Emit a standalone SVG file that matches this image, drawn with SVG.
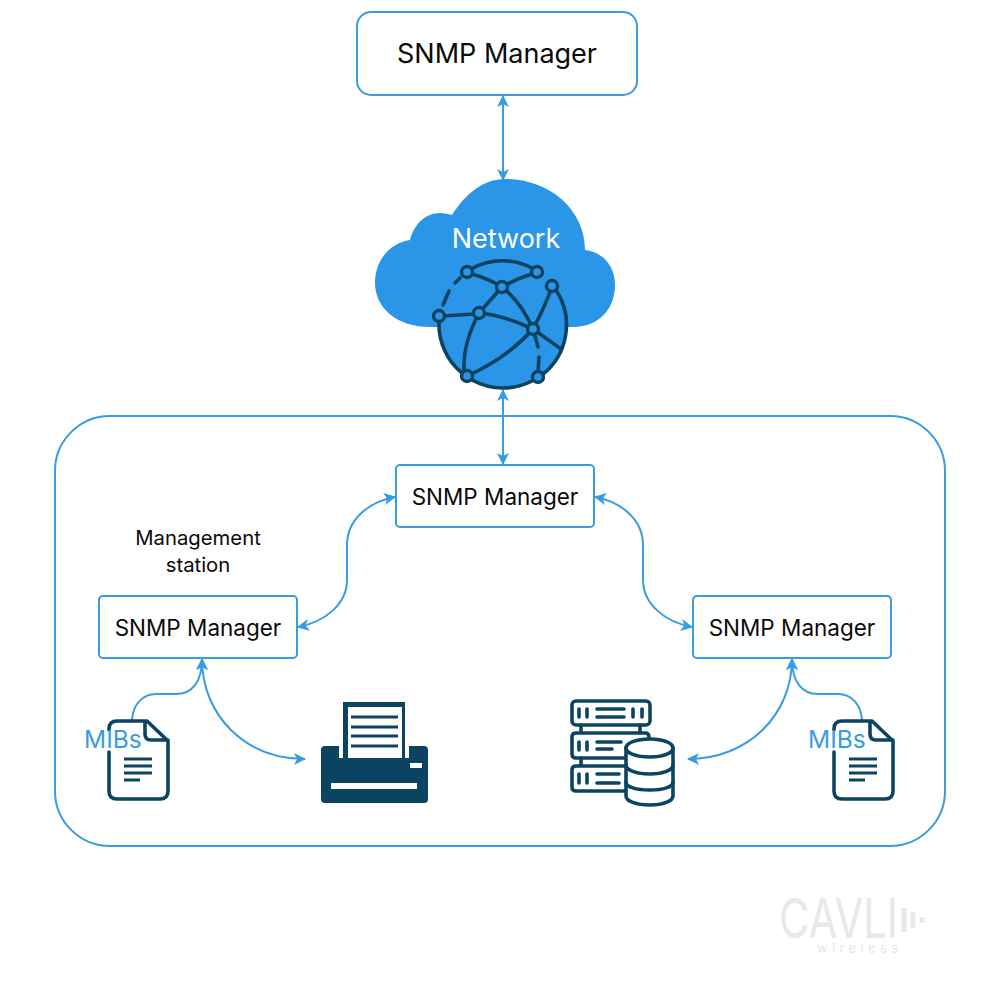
<svg xmlns="http://www.w3.org/2000/svg" width="1000" height="1000" viewBox="0 0 1000 1000">
<style>
text{font-family:Inter,"Liberation Sans",sans-serif;fill:#0a0a0a}
.box{fill:#fff;stroke:#3a9ce0;stroke-width:2}
.c{fill:none;stroke:#3a9ce0;stroke-width:2}
.d{fill:none;stroke:#0b4461;stroke-width:3.600;stroke-linecap:round;stroke-linejoin:round}
.g{fill:none;stroke:#0b4461;stroke-width:3.600;stroke-linecap:round}
.n{fill:#2b95e8;stroke:#0b4461;stroke-width:3.400}
.t{font-size:22.500px;text-anchor:middle}
.s{font-size:20.300px;text-anchor:middle}
.m{font-size:24.500px;fill:#3a9ce0}
.f{fill:#0b4461}
.l{stroke:#0b4461;stroke-width:2.800;fill:none}
</style>
<defs>
<marker id="a" viewBox="0 0 12 12" refX="11" refY="6" markerWidth="12" markerHeight="12" orient="auto-start-reverse" markerUnits="userSpaceOnUse"><path d="M0 0L12 6L0 12L3 6z" fill="#3a9ce0"/></marker>
<g id="doc"><path class="d" d="M109 752V791q0 8 8 8h43q8 0 8-8V741L147 721H117q-8 0-8 8v1M145 721v13q0 6 6 6h17"/><path class="l" d="M124 759h28M124 766h28M124 773h28M124 780h16"/></g>
</defs>
<rect id="outer" x="55" y="416" width="890" height="430" rx="55" fill="#fff" stroke="#3a9ce0" stroke-width="2"/>
<g id="connectors">
<path class="c" marker-start="url(#a)" marker-end="url(#a)" d="M503 96V180"/>
<path class="c" marker-start="url(#a)" marker-end="url(#a)" d="M503 390V464"/>
<path class="c" marker-end="url(#a)" marker-start="url(#a)" d="M395 497C368 502 347 520 347 545V580C347 604 325 622 298 627"/>
<path class="c" marker-end="url(#a)" marker-start="url(#a)" d="M595 497C622 502 643 520 643 545V580C643 604 665 622 692 627"/>
<path class="c" marker-end="url(#a)" d="M132 720C133 705 142 694 156 694H176C192 694 202 682 202 659"/>
<path class="c" marker-start="url(#a)" marker-end="url(#a)" d="M202 659C202 715 245 759 305 759"/>
<path class="c" marker-end="url(#a)" d="M862 720C861 705 852 694 838 694H818C802 694 792 682 792 659"/>
<path class="c" marker-start="url(#a)" marker-end="url(#a)" d="M792 659C792 715 748 759 688 759"/>
</g>
<g id="top-manager"><rect class="box" x="357" y="12" width="280" height="83" rx="14"/><text x="497" y="63" text-anchor="middle" style="font-size:27px">SNMP Manager</text></g>
<g id="network">
<path fill="#2b95e8" d="M430 327C397 327 375 308 375 283C375 260 390 243 410 240C414 224 426 213 440 213C444 213 449 214 452 215C466 193 484 179 505 179C550 179 585 210 585 250C603 252 615 266 615 285C615 308 600 326 575 327Z"/>
<text x="506" y="248" text-anchor="middle" style="font-size:27px;fill:#fff">Network</text>
<circle cx="502.500" cy="324.500" r="63.500" fill="#2b95e8"/>
<path class="g" d="M472 268.500A63.500 63.500 0 0 1 532 268M556 290A63.500 63.500 0 0 1 542 375M532 381A63.500 63.500 0 0 1 473 380.500M462 373A63.500 63.500 0 0 1 439 322"/>
<path class="g" d="M443 305L449 291M455 283L460 278"/>
<path class="g" d="M472 274C483 277 492 281 502 287C512 281 522 277 532 274M502 287L479 313M444 316L474 314M479 313C500 315 516 321 533 329M502 287C516 298 526 313 533 329M552 286C547 302 540 316 533 329M533 329L561 349M533 329C517 347 494 364 467 376M479 313C470 330 463 352 464 371M533 329L538 347M539 357L538 372"/>
<circle class="n" cx="467" cy="272" r="5.500"/><circle class="n" cx="537" cy="272" r="5.500"/><circle class="n" cx="502" cy="287" r="5.500"/><circle class="n" cx="552" cy="286" r="5.500"/><circle class="n" cx="439" cy="316" r="5.500"/><circle class="n" cx="479" cy="313" r="5.500"/><circle class="n" cx="533" cy="329" r="5.500"/><circle class="n" cx="467" cy="376" r="5.500"/><circle class="n" cx="538" cy="377" r="5.500"/>
</g>
<g id="mid-manager"><rect class="box" x="396" y="465" width="198" height="62" rx="4"/><text class="t" x="495" y="505">SNMP Manager</text></g>
<g id="left-manager"><rect class="box" x="99" y="596" width="198" height="62" rx="4"/><text class="t" x="198" y="636">SNMP Manager</text></g>
<g id="right-manager"><rect class="box" x="693" y="596" width="198" height="62" rx="4"/><text class="t" x="792" y="636">SNMP Manager</text></g>
<g id="station"><text class="s" x="198" y="545">Management</text><text class="s" x="198" y="572">station</text></g>
<g id="left-mibs"><use href="#doc"/><text class="m" x="84" y="748">MIBs</text></g>
<g id="right-mibs"><use href="#doc" x="725"/><text class="m" x="808" y="748">MIBs</text></g>
<g id="printer">
<path class="f" d="M325 746H339V758H409V746H424q4 0 4 4V799q0 4-4 4H325q-4 0-4-4V750q0-4 4-4z"/>
<path class="f" d="M343 702H405V758H402V707H348V758H343z"/>
<path class="l" d="M351 717h47M351 727h47M351 736h47M351 746h47"/>
<rect x="410" y="763" width="12" height="5" fill="#fff"/><rect x="331" y="783" width="86" height="6" fill="#fff"/>
</g>
<g id="storage">
<path class="d" d="M581 725V732M640 725V732M581 758V765M640 758V765"/>
<rect class="d" x="572" y="701" width="78" height="24" rx="4"/>
<path class="d" d="M625 758H576q-4 0-4-4V737q0-4 4-4H645q4 0 4 4v5M625 791H576q-4 0-4-4V770q0-4 4-4H625"/>
<path class="d" d="M579 709v8M587 709v8M633 709v8M642 709v8M597 709H624M597 717H624M579 742v8M587 742v8M597 742H621M597 749H612M579 774v9M587 774v9M597 774H619M597 783H619"/>
<path d="M626 748V796C626 801 636 805 650 805C663 805 673 801 673 796V748C673 743 663 739 650 739C636 739 626 743 626 748Z" fill="#fff" stroke="#0b4461" stroke-width="3.600"/>
<path class="d" d="M626 748C626 753 636 757 650 757C663 757 673 753 673 748M626 765C626 770 636 774 650 774C663 774 673 770 673 765M626 782C626 787 636 790 650 790C663 790 673 787 673 782"/>
</g>
<g id="logo">
<text x="779" y="938" textLength="119" lengthAdjust="spacingAndGlyphs" style="font-size:55px;fill:#e8e8e8">CAVLI</text>
<text x="817" y="953" textLength="81" style="font-size:13px;fill:#e8e8e8">wireless</text>
<path d="M904 908V932M913 912V928M922 917V923" stroke="#e8e8e8" stroke-width="5"/>
</g>
</svg>
